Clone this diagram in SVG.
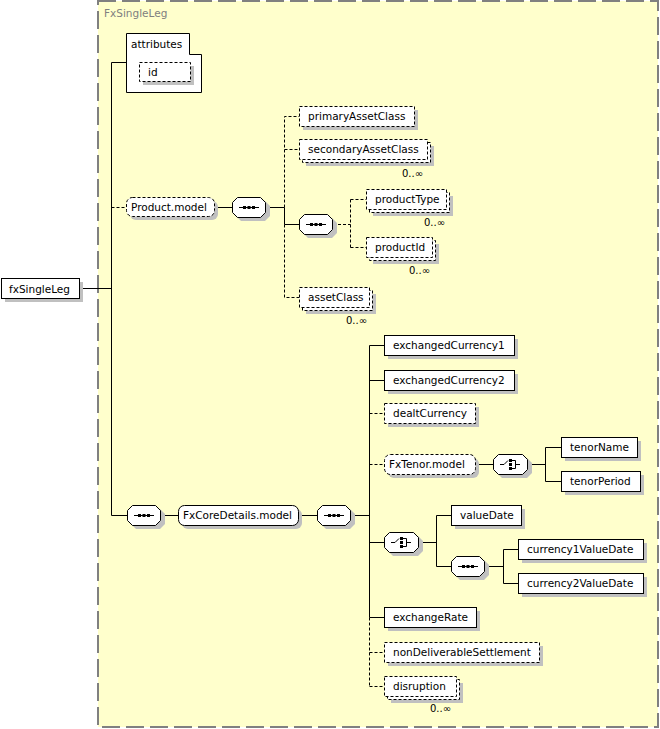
<svg xmlns="http://www.w3.org/2000/svg" xmlns:xlink="http://www.w3.org/1999/xlink" width="660" height="729" viewBox="0 0 660 729">
<style>
.bx{fill:#fff;stroke:#000;stroke-width:1}
.op{stroke-dasharray:3,2}
.sh{fill:#c0c0c0;stroke:none}
.ln{fill:none;stroke:#000;stroke-width:1}
.dl{stroke-dasharray:3,2}
text{font-family:"DejaVu Sans","Liberation Sans",sans-serif;font-size:10.5px;fill:#000}
.oc{font-size:10px}
.ttl{fill:#808080}
</style>
<defs>
<g id="seqShape">
<path class="sh" d="M9,4 H33 L38,9 V19 L33,24 H9 L4,19 V9 Z"/>
<path class="bx" d="M5.5,0.5 H28.5 L33.5,5.5 V15.5 L28.5,20.5 H5.5 L0.5,15.5 V5.5 Z"/>
<path class="ln" d="M7,10.5 H27"/>
<rect x="11" y="9" width="3" height="3" fill="#000"/>
<rect x="15.5" y="9" width="3" height="3" fill="#000"/>
<rect x="20" y="9" width="3" height="3" fill="#000"/>
</g>
<g id="choShape">
<path class="sh" d="M9,4 H34 L39,9 V19 L34,24 H9 L4,19 V9 Z"/>
<path class="bx" d="M5.5,0.5 H29.5 L34.5,5.5 V15.5 L29.5,20.5 H5.5 L0.5,15.5 V5.5 Z"/>
<path class="ln" d="M7,10.5 H11 L15,6.5"/>
<rect x="16" y="5" width="3" height="3" fill="#000"/>
<rect x="16" y="9" width="3" height="3" fill="#000"/>
<rect x="16" y="13" width="3" height="3" fill="#000"/>
<path class="ln" d="M19,6.5 H22.5 V14.5 H19 M22.5,10.5 H27"/>
</g>
</defs>

<rect x="98" y="1" width="560" height="726" fill="#ffffcc" stroke="#808080" stroke-width="2" stroke-dasharray="18,6"/>
<text class="ttl" x="104" y="17">FxSingleLeg</text>

<g id="connectors">
<path class="ln" d="M79.5,288.5 H111.5 M111.5,62.5 V515.5 M111.5,62.5 H126.5 M111.5,515.5 H127"/>
<path class="ln dl" d="M111.5,207.5 H126.5"/>
<path class="ln" d="M214.5,207.5 H232 M266,207.5 H284.5 M284.5,207.5 V224.5 H300"/>
<path class="ln dl" d="M284.5,207.5 V116.5 H299.5 M284.5,149.5 H299.5 M284.5,224.5 V297.5 H299.5"/>
<path class="ln dl" d="M333,224.5 H350.5 M350.5,199.5 V247.5 M350.5,199.5 H366.5 M350.5,247.5 H366.5"/>
<path class="ln" d="M161,515.5 H178.5 M298.5,515.5 H317 M351,515.5 H369.5 M369.5,345.5 V617.5"/>
<path class="ln" d="M369.5,345.5 H384.5 M369.5,380.5 H384.5 M369.5,542.5 H384.5 M369.5,617.5 H384.5"/>
<path class="ln dl" d="M369.5,617.5 V686.5 M369.5,413.5 H384.5 M369.5,464.5 H384.5 M369.5,652.5 H384.5 M369.5,686.5 H384.5"/>
<path class="ln" d="M475.5,464.5 H493 M528,464.5 H545.5 M545.5,447.5 V481.5 M545.5,447.5 H561.5 M545.5,481.5 H561.5"/>
<path class="ln" d="M419,542.5 H436.5 M436.5,515.5 V566.5 M436.5,515.5 H451.5 M436.5,566.5 H451"/>
<path class="ln" d="M485,566.5 H503.5 M503.5,549.5 V583.5 M503.5,549.5 H518.5 M503.5,583.5 H518.5"/>
</g>

<g id="attributes">
<path class="bx" d="M126.5,33.5 H189.5 V54.5 H201.5 V92.5 H126.5 Z"/>
<text x="131" y="48">attributes</text>
</g>
<g id="id">
<rect class="sh" x="143" y="66" width="51" height="19"/>
<rect class="bx op" x="139.5" y="62.5" width="51" height="19"/>
<text x="148" y="76">id</text>
</g>

<g id="fxSingleLeg">
<rect class="sh" x="5" y="282" width="78" height="20"/>
<rect class="bx" x="1.5" y="278.5" width="78" height="20"/>
<text x="9" y="293">fxSingleLeg</text>
</g>

<g id="Product.model">
<rect class="sh" x="130" y="201" width="88" height="19" rx="6"/>
<rect class="bx op" x="126.5" y="197.5" width="88" height="19" rx="6"/>
<text x="131" y="211">Product.model</text>
</g>
<g id="seqProduct"><use xlink:href="#seqShape" x="232" y="197"/></g>

<g id="primaryAssetClass">
<rect class="sh" x="303" y="110" width="115" height="20"/>
<rect class="bx op" x="299.5" y="106.5" width="115" height="20"/>
<text x="308" y="120">primaryAssetClass</text>
</g>
<g id="secondaryAssetClass">
<rect class="sh" x="306" y="146" width="128" height="20"/>
<rect class="bx op" x="302.5" y="142.5" width="128" height="20"/>
<rect class="bx op" x="299.5" y="139.5" width="128" height="20"/>
<text x="308" y="153">secondaryAssetClass</text>
<text class="oc" x="402" y="177">0..∞</text>
</g>
<g id="seqProductId"><use xlink:href="#seqShape" x="299" y="214"/></g>
<g id="productType">
<rect class="sh" x="373" y="196" width="80" height="20"/>
<rect class="bx op" x="369.5" y="192.5" width="80" height="20"/>
<rect class="bx op" x="366.5" y="189.5" width="80" height="20"/>
<text x="375" y="203">productType</text>
<text class="oc" x="424" y="226">0..∞</text>
</g>
<g id="productId">
<rect class="sh" x="373" y="244" width="66" height="20"/>
<rect class="bx op" x="369.5" y="240.5" width="66" height="20"/>
<rect class="bx op" x="366.5" y="237.5" width="66" height="20"/>
<text x="375" y="251">productId</text>
<text class="oc" x="409" y="274">0..∞</text>
</g>
<g id="assetClass">
<rect class="sh" x="306" y="294" width="70" height="20"/>
<rect class="bx op" x="302.5" y="290.5" width="70" height="20"/>
<rect class="bx op" x="299.5" y="287.5" width="70" height="20"/>
<text x="308" y="301">assetClass</text>
<text class="oc" x="346" y="324">0..∞</text>
</g>

<g id="seqMain"><use xlink:href="#seqShape" x="127" y="505"/></g>
<g id="FxCoreDetails.model">
<rect class="sh" x="182" y="509" width="120" height="20" rx="6"/>
<rect class="bx" x="178.5" y="505.5" width="120" height="20" rx="6"/>
<text x="183" y="519">FxCoreDetails.model</text>
</g>
<g id="seqCore"><use xlink:href="#seqShape" x="317" y="505"/></g>

<g id="exchangedCurrency1">
<rect class="sh" x="388" y="339" width="130" height="20"/>
<rect class="bx" x="384.5" y="335.5" width="130" height="20"/>
<text x="393" y="349">exchangedCurrency1</text>
</g>
<g id="exchangedCurrency2">
<rect class="sh" x="388" y="374" width="130" height="20"/>
<rect class="bx" x="384.5" y="370.5" width="130" height="20"/>
<text x="393" y="384">exchangedCurrency2</text>
</g>
<g id="dealtCurrency">
<rect class="sh" x="388" y="407" width="91" height="20"/>
<rect class="bx op" x="384.5" y="403.5" width="91" height="20"/>
<text x="393" y="417">dealtCurrency</text>
</g>
<g id="FxTenor.model">
<rect class="sh" x="388" y="458" width="91" height="20" rx="6"/>
<rect class="bx op" x="384.5" y="454.5" width="91" height="20" rx="6"/>
<text x="389" y="468">FxTenor.model</text>
</g>
<g id="choiceTenor"><use xlink:href="#choShape" x="493" y="454"/></g>
<g id="tenorName">
<rect class="sh" x="565" y="441" width="76" height="20"/>
<rect class="bx" x="561.5" y="437.5" width="76" height="20"/>
<text x="570" y="451">tenorName</text>
</g>
<g id="tenorPeriod">
<rect class="sh" x="565" y="475" width="79" height="20"/>
<rect class="bx" x="561.5" y="471.5" width="79" height="20"/>
<text x="570" y="485">tenorPeriod</text>
</g>

<g id="choiceValueDate"><use xlink:href="#choShape" x="384" y="532"/></g>
<g id="valueDate">
<rect class="sh" x="455" y="509" width="70" height="20"/>
<rect class="bx" x="451.5" y="505.5" width="70" height="20"/>
<text x="460" y="519">valueDate</text>
</g>
<g id="seqValueDates"><use xlink:href="#seqShape" x="451" y="556"/></g>
<g id="currency1ValueDate">
<rect class="sh" x="522" y="543" width="125" height="20"/>
<rect class="bx" x="518.5" y="539.5" width="125" height="20"/>
<text x="527" y="553">currency1ValueDate</text>
</g>
<g id="currency2ValueDate">
<rect class="sh" x="522" y="577" width="125" height="20"/>
<rect class="bx" x="518.5" y="573.5" width="125" height="20"/>
<text x="527" y="587">currency2ValueDate</text>
</g>

<g id="exchangeRate">
<rect class="sh" x="388" y="611" width="92" height="20"/>
<rect class="bx" x="384.5" y="607.5" width="92" height="20"/>
<text x="393" y="621">exchangeRate</text>
</g>
<g id="nonDeliverableSettlement">
<rect class="sh" x="388" y="646" width="155" height="20"/>
<rect class="bx op" x="384.5" y="642.5" width="155" height="20"/>
<text x="393" y="656">nonDeliverableSettlement</text>
</g>
<g id="disruption">
<rect class="sh" x="391" y="683" width="72" height="20"/>
<rect class="bx op" x="387.5" y="679.5" width="72" height="20"/>
<rect class="bx op" x="384.5" y="676.5" width="72" height="20"/>
<text x="393" y="690">disruption</text>
<text class="oc" x="430" y="712">0..∞</text>
</g>
</svg>
